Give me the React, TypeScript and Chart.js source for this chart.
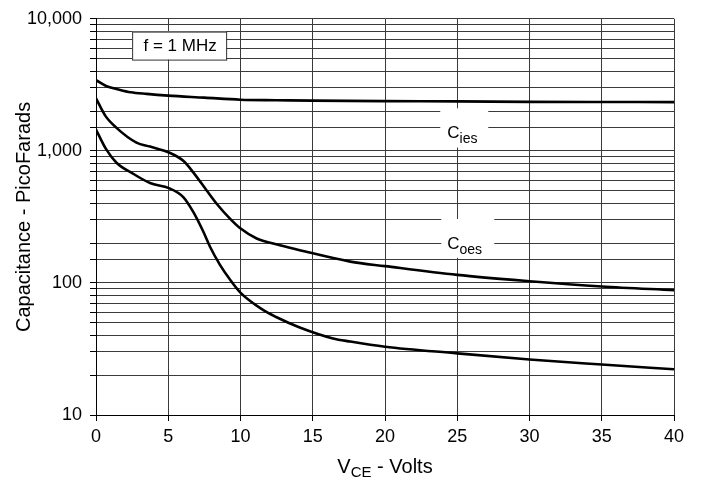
import React, { useEffect, useRef } from "react";
import { Chart, registerables } from "chart.js";

Chart.register(...registerables);

// ---- data ----
const ciesX = [0, 0.7, 1.5, 2.4, 3.5, 5, 7.5, 10, 12.5, 15, 20, 25, 30, 35, 40];
const ciesY = [3430, 3100, 2930, 2780, 2700, 2620, 2530, 2440, 2420, 2400, 2380, 2370, 2350, 2345, 2340];

const coesX = [0, 0.65, 1.4, 2.8, 3.74, 5.05, 6.04, 6.73, 7.66, 8.35, 9.27, 10.01, 11.12, 12.73, 14.1, 17.6, 20, 25, 30, 35, 40];
const coesY = [2500, 1840, 1500, 1155, 1078, 972, 841, 688, 501, 398, 307, 258, 217, 193, 177, 145, 134, 115, 103, 94, 88];

const cresX = [0, 0.7, 1.4, 2.6, 3.74, 5.05, 6.04, 6.73, 7.43, 7.89, 8.58, 9.27, 10.01, 11.5, 12.5, 14.1, 16.4, 17.6, 20, 25, 30, 35, 40];
const cresY = [1450, 1030, 817, 668, 571, 522, 447, 345, 244, 188, 137, 106, 84, 63, 55, 46, 38, 36, 32.9, 29.3, 26.3, 24.1, 22.2];

const xTicksMin = 0;
const xTicksMax = 40;
const xStep = 5;
const yMin = 10;
const yMax = 10000;
const majorYTicks = [10, 100, 1000, 10000];

const yTitle = "Capacitance - PicoFarads";
const xTitleMain = "V";
const xTitleSub = "CE";
const xTitleRest = " - Volts";
const freqNote = "f = 1 MHz";

const FONT = "'Liberation Sans', Arial, Helvetica, sans-serif";

const toPts = (xs: number[], ys: number[]) => xs.map((x, i) => ({ x, y: ys[i] }));

const annotations = {
  id: "annotations",
  beforeDatasetsDraw(chart: any) {
    const ctx = chart.ctx;
    const xs = chart.scales.x;
    const ys = chart.scales.y;
    ctx.save();
    ctx.fillStyle = "#ffffff";
    // white label backgrounds (break grid lines)
    const px = xs.getPixelForValue(25);
    ctx.fillRect(px - 17, ys.getPixelForValue(2100), 48, ys.getPixelForValue(1060) - ys.getPixelForValue(2100));
    ctx.fillRect(px - 16, ys.getPixelForValue(305), 53, ys.getPixelForValue(155) - ys.getPixelForValue(305));
    ctx.restore();
  },
  afterDatasetsDraw(chart: any) {
    const ctx = chart.ctx;
    const xs = chart.scales.x;
    const ys = chart.scales.y;
    const px = xs.getPixelForValue(25);
    ctx.save();
    ctx.fillStyle = "#000";
    ctx.textBaseline = "alphabetic";
    ctx.textAlign = "left";
    const drawSub = (main: string, sub: string, x: number, yb: number) => {
      ctx.font = `17px ${FONT}`;
      ctx.fillText(main, x, yb);
      const w = ctx.measureText(main).width;
      ctx.font = `14px ${FONT}`;
      ctx.fillText(sub, x + w, yb + 5);
    };
    drawSub("C", "ies", px - 10, ys.getPixelForValue(1400) + 6);
    drawSub("C", "oes", px - 10, ys.getPixelForValue(200) + 6);

    // frequency note box
    const bx = xs.getPixelForValue(2.5);
    const by = ys.getPixelForValue(8000);
    const bw = 94;
    const bh = 28;
    ctx.fillStyle = "#fff";
    ctx.fillRect(bx, by, bw, bh);
    ctx.strokeStyle = "#333";
    ctx.lineWidth = 1;
    ctx.strokeRect(bx + 0.5, by + 0.5, bw, bh);
    ctx.fillStyle = "#000";
    ctx.font = `17px ${FONT}`;
    ctx.textAlign = "center";
    ctx.textBaseline = "middle";
    ctx.fillText(freqNote, bx + bw / 2 + 1, by + bh / 2 + 1);

    // x axis title with subscript
    const cx = (chart.chartArea.left + chart.chartArea.right) / 2;
    ctx.textAlign = "left";
    ctx.textBaseline = "alphabetic";
    ctx.font = `20px ${FONT}`;
    const w1 = ctx.measureText(xTitleMain).width;
    const w3 = ctx.measureText(xTitleRest).width;
    ctx.font = `15px ${FONT}`;
    const w2 = ctx.measureText(xTitleSub).width;
    const total = w1 + w2 + w3;
    const x0 = cx - total / 2;
    const base = 473;
    ctx.font = `20px ${FONT}`;
    ctx.fillText(xTitleMain, x0, base);
    ctx.font = `15px ${FONT}`;
    ctx.fillText(xTitleSub, x0 + w1, base + 4);
    ctx.font = `20px ${FONT}`;
    ctx.fillText(xTitleRest, x0 + w1 + w2, base);
    ctx.restore();
  },
};

export default function App() {
  const ref = useRef<HTMLCanvasElement | null>(null);
  useEffect(() => {
    if (!ref.current) return;
    const lineStyle = {
      borderColor: "#000",
      borderWidth: 2.6,
      pointRadius: 0,
      fill: false,
      cubicInterpolationMode: "monotone" as const,
    };
    const chart = new Chart(ref.current, {
      type: "line",
      data: {
        datasets: [
          { label: "Cies", data: toPts(ciesX, ciesY), ...lineStyle },
          { label: "Coes", data: toPts(coesX, coesY), ...lineStyle },
          { label: "Cres", data: toPts(cresX, cresY), ...lineStyle },
        ],
      },
      options: {
        animation: false,
        responsive: false,
        devicePixelRatio: 1,
        layout: { padding: { left: 0, top: 15, right: 27, bottom: 0 } },
        plugins: { legend: { display: false }, tooltip: { enabled: false } },
        scales: {
          x: {
            type: "linear",
            min: xTicksMin,
            max: xTicksMax,
            ticks: { stepSize: xStep, color: "#000", font: { family: FONT, size: 18 }, padding: 5, maxRotation: 0 },
            grid: { color: "#3a3a3a", lineWidth: 1, tickLength: 6, tickColor: "#000" },
            border: { color: "#000", width: 1 },
            afterFit: (s: any) => {
              s.height = 67;
            },
          },
          y: {
            type: "logarithmic",
            min: yMin,
            max: yMax,
            ticks: {
              color: "#000",
              font: { family: FONT, size: 18 },
              padding: 8,
              autoSkip: false,
              callback: (v: any) => {
                const n = Number(v);
                const m = majorYTicks.find((t) => Math.abs(t - n) / t < 1e-6);
                return m !== undefined ? m.toLocaleString("en-US") : "";
              },
            },
            grid: { color: "#3a3a3a", lineWidth: 1, tickLength: 6, tickColor: "#000" },
            border: { color: "#000", width: 1 },
            title: {
              display: true,
              text: yTitle,
              color: "#000",
              font: { family: FONT, size: 20 },
              padding: { top: 12, bottom: 0 },
            },
            afterFit: (s: any) => {
              s.width = 96;
            },
          },
        },
      },
      plugins: [annotations],
    });
    return () => chart.destroy();
  }, []);
  return (
    <div style={{ position: "absolute", left: 0, top: 0, width: 701, height: 482, background: "#fff" }}>
      <canvas ref={ref} width={701} height={482} style={{ display: "block" }} />
    </div>
  );
}
